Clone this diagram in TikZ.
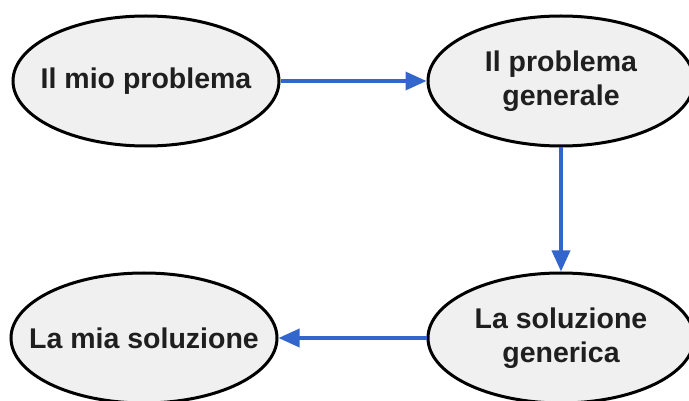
\documentclass[tikz,border=0pt]{standalone}
\usepackage{fontspec}
\setmainfont{Liberation Sans}
\usetikzlibrary{shapes.geometric,arrows.meta}
\definecolor{ellfill}{HTML}{F0F0F0}
\definecolor{arrblue}{HTML}{3366CC}
\tikzset{
  bubble/.style={ellipse, draw=black, line width=3pt, fill=ellfill,
    minimum width=266pt, minimum height=130pt, inner xsep=-30pt, inner ysep=0pt,
    font=\fontsize{28.5}{34}\selectfont\bfseries, align=center, text=black!88},
  link/.style={draw=arrblue, line width=3.5pt,
    -{Triangle[length=21pt,width=18pt]}}
}
\begin{document}
\begin{tikzpicture}[x=1pt,y=-1pt]
\useasboundingbox (0,0) rectangle (689,401);
\node[bubble] (mio) at (146,81) {Il mio problema};
\node[bubble] (gen) at (561,81) {Il problema\\generale};
\node[bubble] (sol) at (561,338) {La soluzione\\generica};
\node[bubble] (mia) at (144,338) {La mia soluzione};
\draw[link] (mio.east) -- (gen.west);
\draw[link] (gen.south) -- (sol.north);
\draw[link] (sol.west) -- (mia.east);
\end{tikzpicture}
\end{document}
